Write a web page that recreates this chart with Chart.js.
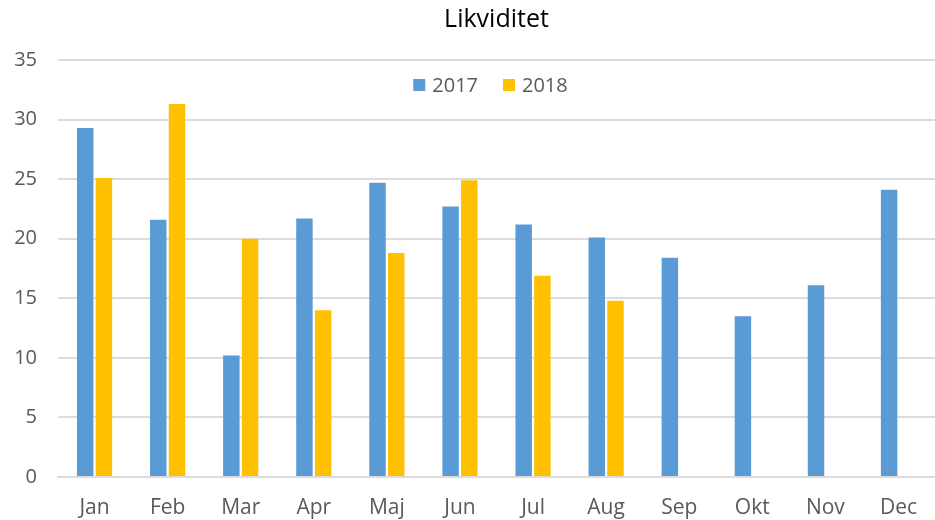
<!DOCTYPE html>
<html>
<head>
<meta charset="utf-8">
<script src="https://cdn.jsdelivr.net/npm/chart.js@4.4.0/dist/chart.umd.min.js"></script>
<style>
  html, body { margin: 0; padding: 0; background: #ffffff; }
  #wrap { width: 935px; height: 520px; }
</style>
</head>
<body>
<div id="wrap"><canvas id="c" width="935" height="520"></canvas></div>
<script>
const months = ["Jan", "Feb", "Mar", "Apr", "Maj", "Jun", "Jul", "Aug", "Sep", "Okt", "Nov", "Dec"];
const values2017 = [29.3, 21.6, 10.2, 21.7, 24.7, 22.7, 21.2, 20.1, 18.4, 13.5, 16.1, 24.1];
const values2018 = [25.1, 31.3, 20.0, 14.0, 18.8, 24.9, 16.9, 14.8, null, null, null, null];
const seriesNames = ["2017", "2018"];
const chartTitle = "Likviditet";

const FONT = "'Open Sans', 'Liberation Sans', sans-serif";

// Legend drawn inside the plot area, near its top, centred
const insideLegend = {
  id: "insideLegend",
  afterDraw(chart) {
    const ctx = chart.ctx;
    const area = chart.chartArea;
    const box = 12, gap = 7, spacing = 25;
    ctx.save();
    ctx.font = "20px " + FONT;
    ctx.textBaseline = "middle";
    ctx.textAlign = "left";
    const items = chart.data.datasets.map(ds => ({
      text: ds.label, color: ds.backgroundColor, w: ctx.measureText(ds.label).width
    }));
    let total = 0;
    items.forEach((it, i) => { total += box + gap + it.w + (i ? spacing : 0); });
    let x = (area.left + area.right) / 2 - total / 2 - 6;
    const cy = area.top + 25;
    items.forEach((it, i) => {
      if (i) x += spacing;
      ctx.fillStyle = it.color;
      ctx.fillRect(x, cy - box / 2, box, box);
      x += box + gap;
      ctx.fillStyle = "#595959";
      ctx.fillText(it.text, x, cy + 1);
      x += it.w;
    });
    ctx.restore();
  }
};

new Chart(document.getElementById("c"), {
  type: "bar",
  data: {
    labels: months,
    datasets: [
      { label: seriesNames[0], data: values2017, backgroundColor: "#5B9BD5", borderWidth: 0 },
      { label: seriesNames[1], data: values2018, backgroundColor: "#FFC000", borderWidth: 0 }
    ]
  },
  plugins: [insideLegend],
  options: {
    responsive: false,
    animation: false,
    devicePixelRatio: 1,
    layout: { padding: { left: 0, right: 0, top: 0, bottom: 0 } },
    datasets: { bar: { categoryPercentage: 0.512, barPercentage: 0.88 } },
    plugins: {
      title: {
        display: true,
        fullSize: false,
        text: chartTitle,
        color: "#000000",
        font: { family: FONT, size: 25, weight: "normal" },
        padding: { top: 5, bottom: 25 }
      },
      legend: { display: false },
      tooltip: { enabled: false }
    },
    scales: {
      x: {
        grid: { display: false, drawTicks: false },
        border: { display: true, color: "#dcdcdc", width: 2 },
        ticks: { color: "#595959", font: { family: FONT, size: 21 }, padding: 18, maxRotation: 0 },
        afterFit(scale) { scale.height = 43; }
      },
      y: {
        min: 0,
        max: 35,
        grid: { color: "#dcdcdc", lineWidth: 2, drawTicks: false },
        border: { display: false },
        ticks: { stepSize: 5, color: "#595959", font: { family: FONT, size: 20 }, padding: 21 },
        afterFit(scale) { scale.width = 58; }
      }
    }
  }
});
</script>
</body>
</html>
